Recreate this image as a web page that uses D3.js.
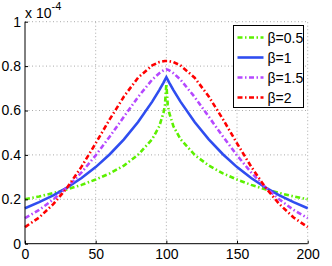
<!DOCTYPE html>
<meta charset="utf-8">
<style>
    body { margin: 0; background: #fff; }
    svg { font-family: "Liberation Sans", Arial, sans-serif; }
    .grid line { stroke: #aaa; stroke-dasharray: 1,2.5; }
    .axis path, .axis line { stroke: #000; }
    .axis text { font-size: 14px; fill: #000; }
</style>
<body>
<script src="https://cdnjs.cloudflare.com/ajax/libs/d3/7.8.5/d3.min.js"></script>
<script>

    var width = 332,
        height = 266;

    var margin = {left: 25, right: 25, top: 22, bottom: 23};

    // x positions (samples)
    var xs = [0, 10, 20, 30, 40, 50, 60, 70, 80, 90, 95, 98, 99, 100, 101, 102, 105, 110, 120, 130, 140, 150, 160, 170, 180, 190, 200];

    // values, in units of 1e-4
    var beta05 = [0.200, 0.213, 0.228, 0.245, 0.265, 0.289, 0.317, 0.352, 0.400, 0.471, 0.529, 0.590, 0.625, 0.720, 0.625, 0.590, 0.529, 0.471, 0.400, 0.352, 0.317, 0.289, 0.265, 0.245, 0.228, 0.213, 0.200];
    var beta1  = [0.160, 0.187, 0.218, 0.254, 0.296, 0.345, 0.403, 0.470, 0.548, 0.640, 0.692, 0.726, 0.738, 0.750, 0.738, 0.726, 0.692, 0.640, 0.548, 0.470, 0.403, 0.345, 0.296, 0.254, 0.218, 0.187, 0.160];
    var beta15 = [0.115, 0.152, 0.199, 0.255, 0.321, 0.398, 0.483, 0.572, 0.661, 0.739, 0.768, 0.781, 0.784, 0.785, 0.784, 0.781, 0.768, 0.739, 0.661, 0.572, 0.483, 0.398, 0.321, 0.255, 0.199, 0.152, 0.115];
    var beta2  = [0.075, 0.118, 0.178, 0.254, 0.347, 0.452, 0.561, 0.663, 0.748, 0.803, 0.818, 0.822, 0.823, 0.823, 0.823, 0.822, 0.818, 0.803, 0.748, 0.663, 0.561, 0.452, 0.347, 0.254, 0.178, 0.118, 0.075];

    var labels = ["\u03b2=0.5", "\u03b2=1", "\u03b2=1.5", "\u03b2=2"];
    var xTicks = [0, 50, 100, 150, 200];
    var yTicks = [0, 0.2, 0.4, 0.6, 0.8, 1];

    var series = [
        {name: labels[0], values: beta05, color: "#5cf000", dash: "5,2.5,1.5,2.5"},
        {name: labels[1], values: beta1, color: "#2f4df0", dash: null},
        {name: labels[2], values: beta15, color: "#b548ff", dash: "5,2.5,1.5,2.5"},
        {name: labels[3], values: beta2, color: "#ff0000", dash: "5,2.5,1.5,2.5"}
    ];

    var x = d3.scaleLinear().domain([0, 200]).range([margin.left, width - margin.right + 0.7]);
    var y = d3.scaleLinear().domain([0, 1]).range([height - margin.bottom + 0.7, margin.top - 0.3]);

    var svg = d3.select("body").append("svg")
        .attr("width", width)
        .attr("height", height);

    // grid
    var grid = svg.append("g").attr("class", "grid");
    grid.selectAll(".gx").data(xTicks.slice(1))
        .enter().append("line")
        .attr("x1", function(d) { return x(d); })
        .attr("x2", function(d) { return x(d); })
        .attr("y1", y(0)).attr("y2", y(1));
    grid.selectAll(".gy").data(yTicks.slice(1))
        .enter().append("line")
        .attr("x1", x(0)).attr("x2", x(200))
        .attr("y1", function(d) { return y(d); })
        .attr("y2", function(d) { return y(d); });

    // curves
    var line = d3.line()
        .x(function(d, i) { return x(xs[i]); })
        .y(function(d) { return y(d); });

    svg.append("g").selectAll("path")
        .data(series)
        .enter().append("path")
        .attr("d", function(d) { return line(d.values); })
        .attr("fill", "none")
        .attr("stroke", function(d) { return d.color; })
        .attr("stroke-width", 2.6)
        .attr("stroke-dasharray", function(d) { return d.dash; });

    // axes
    svg.append("g")
        .attr("class", "axis")
        .attr("transform", "translate(" + x(0) + ",0)")
        .call(d3.axisLeft(y).tickValues(yTicks).tickSize(-3).tickPadding(4)
            .tickFormat(function(d) { return d === 0 || d === 1 ? d : d3.format(".1f")(d); }))
        .select(".domain").attr("d", "M0," + y(0) + "V" + y(1));

    svg.append("g")
        .attr("class", "axis")
        .attr("transform", "translate(0," + y(0) + ")")
        .call(d3.axisBottom(x).tickValues(xTicks).tickSize(-3).tickPadding(5))
        .select(".domain").attr("d", "M" + x(0) + ",0H" + x(200));

    // exponent label
    var ex = svg.append("text")
        .attr("x", 25)
        .attr("y", 18)
        .attr("font-size", 14);
    ex.append("tspan").text("x 10");
    ex.append("tspan").attr("dy", -8).attr("font-size", 11).text("-4");

    // legend
    var lg = svg.append("g").attr("transform", "translate(233.5,25.5)");
    lg.append("rect")
        .attr("width", 70)
        .attr("height", 82)
        .attr("fill", "#fff")
        .attr("stroke", "#000");
    var item = lg.selectAll(".item").data(series)
        .enter().append("g")
        .attr("transform", function(d, i) { return "translate(0," + (12 + i * 20) + ")"; });
    item.append("line")
        .attr("x1", 4).attr("x2", 30)
        .attr("stroke", function(d) { return d.color; })
        .attr("stroke-width", 2.6)
        .attr("stroke-dasharray", function(d) { return d.dash; });
    item.append("text")
        .attr("x", 34)
        .attr("y", 5)
        .attr("font-size", 14)
        .text(function(d) { return d.name; });

</script>
